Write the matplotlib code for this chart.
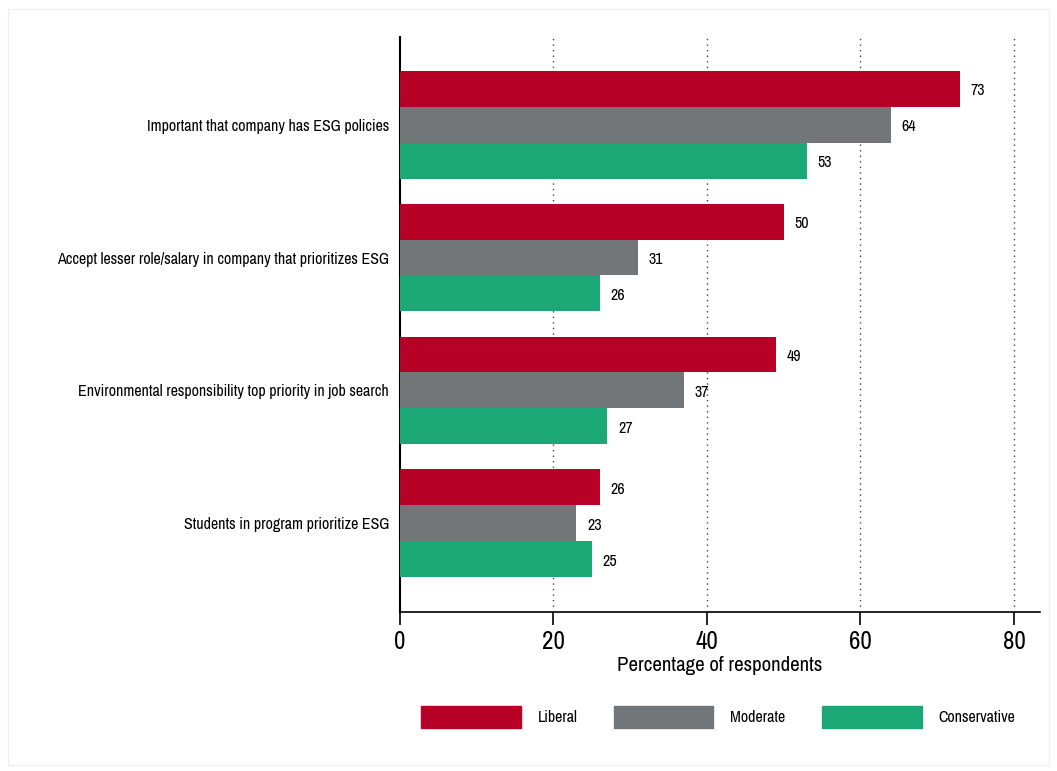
import matplotlib.pyplot as plt
import matplotlib.patches as mpatches
from matplotlib import font_manager

# prefer a condensed sans if one is installed, else plain Liberation Sans a bit smaller
narrow = None
for f in font_manager.fontManager.ttflist:
    if ('Narrow' in f.name or 'Condensed' in f.name) and 'Mono' not in f.name and 'Serif' not in f.name:
        narrow = f.name
        break
if narrow is None:
    for f in font_manager.fontManager.ttflist:
        if f.stretch in ('condensed', 'semi-condensed') and 'Sans' in f.name and 'Mono' not in f.name:
            narrow = f.name
            break

if narrow:
    plt.rcParams['font.family'] = [narrow, 'DejaVu Sans']
    small, big, mid = 11.5, 18, 15
else:
    plt.rcParams['font.family'] = ['Liberation Sans', 'DejaVu Sans']
    small, big, mid = 9.6, 16.5, 12.5

categories = ['Important that company has ESG policies',
              'Accept lesser role/salary in company that prioritizes ESG',
              'Environmental responsibility top priority in job search',
              'Students in program prioritize ESG']
series = ['Liberal', 'Moderate', 'Conservative']
liberal = [73, 50, 49, 26]
moderate = [64, 31, 37, 23]
conservative = [53, 26, 27, 25]
colors = ['#B70025', '#737678', '#1BA876']
xticks = [0, 20, 40, 60, 80]

fig = plt.figure(figsize=(10.57, 7.71), dpi=100)
ax = fig.add_axes([400/1057, 1-612/771, 640/1057, 575/771])

step = 3.7  # group spacing in bar heights
values = [liberal, moderate, conservative]
for g in range(len(categories)):
    for s in range(3):
        y = g*step + s + 0.5
        v = values[s][g]
        ax.barh(y, v, height=1.0, color=colors[s], zorder=3)
        ax.text(v + 1.4, y + 0.05, str(v), va='center', ha='left', fontsize=small)

ax.set_ylim(3*step + 3 + 0.97, -0.94)
ax.set_xlim(0, 83.4)
ax.set_yticks([g*step + 1.5 for g in range(len(categories))])
ax.set_yticklabels(categories, fontsize=small)
ax.tick_params(axis='y', length=0, pad=8)
ax.set_xticks(xticks)
ax.set_xticklabels([str(t) for t in xticks], fontsize=big)
ax.tick_params(axis='x', length=9, width=1.2, pad=4)
ax.set_xlabel('Percentage of respondents', fontsize=mid, labelpad=2)

for t in xticks[1:]:
    ax.axvline(t, color='#444444', linestyle=(0, (1, 3)), linewidth=1, zorder=1)

ax.spines['top'].set_visible(False)
ax.spines['right'].set_visible(False)
ax.spines['left'].set_linewidth(1.5)
ax.spines['bottom'].set_linewidth(1.2)

handles = [mpatches.Patch(color=c, label=l) for c, l in zip(colors, series)]
fig.legend(handles=handles, loc='center', bbox_to_anchor=(718/1057, 1-717/771),
           ncol=3, frameon=False, fontsize=small, handlelength=100/(small*1.389),
           handleheight=27/(small*1.389), handletextpad=17/(small*1.389),
           columnspacing=36/(small*1.389))

border = mpatches.Rectangle((8/1057, 6/771), 1041/1057, 756/771, transform=fig.transFigure,
                            fill=False, edgecolor='#f0f0f0', linewidth=1)
fig.patches.append(border)

fig.savefig('out.png', dpi=100)
